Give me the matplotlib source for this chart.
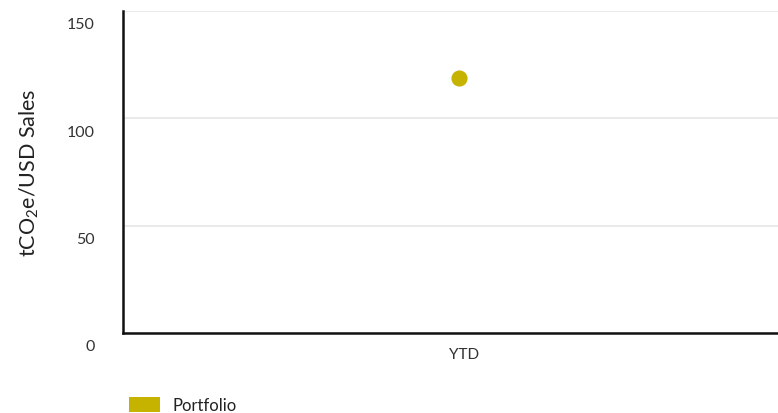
import matplotlib.pyplot as plt
from matplotlib.patches import Patch
from matplotlib.transforms import ScaledTranslation

plt.rcParams['font.family'] = ['Lato', 'DejaVu Sans']
plt.rcParams['mathtext.fontset'] = 'custom'
plt.rcParams['mathtext.rm'] = 'Lato'

categories = ['YTD']
portfolio = [119]
y_ticks = [0, 50, 100, 150]
color = '#c5b300'

fig = plt.figure(figsize=(7.78, 4.14), dpi=100)
ax = fig.add_axes([123 / 778, 80 / 414, 655 / 778, 322 / 414])

ax.scatter([0], portfolio, s=135, color=color, zorder=3, linewidths=0)

ax.set_xlim(-1, 319 / 336)
ax.set_ylim(0, 150)
ax.set_xticks([0.015])
ax.set_xticklabels(categories, fontsize=11, color='#333333')
ax.set_yticks(y_ticks)
ax.set_yticklabels([str(v) for v in y_ticks], fontsize=11.5, color='#333333')
ax.tick_params(axis='both', length=0)
ax.tick_params(axis='y', pad=29)
ax.tick_params(axis='x', pad=10)
for lab in ax.get_yticklabels():
    lab.set_transform(lab.get_transform() + ScaledTranslation(0.12, -0.12, fig.dpi_scale_trans))

ax.grid(axis='y', color='#e6e6e6', linewidth=1.2)
ax.set_axisbelow(True)
for s in ['top', 'right']:
    ax.spines[s].set_visible(False)
for s in ['left', 'bottom']:
    ax.spines[s].set_linewidth(1.8)
    ax.spines[s].set_color('#111111')

ax.set_ylabel(r'tCO$_\mathrm{2}$e/USD Sales', fontsize=15.5, color='#222222')
ax.yaxis.set_label_coords(-0.125, 0.5)

handle = Patch(facecolor=color, edgecolor='none', label='Portfolio')
fig.legend(handles=[handle], loc='lower left', bbox_to_anchor=(129 / 778, 0.0),
           frameon=False, fontsize=12, handlelength=1.86, handleheight=1.0,
           handletextpad=0.78, borderpad=0, borderaxespad=0, labelcolor='#222222')

fig.savefig('out.png', dpi=100)
